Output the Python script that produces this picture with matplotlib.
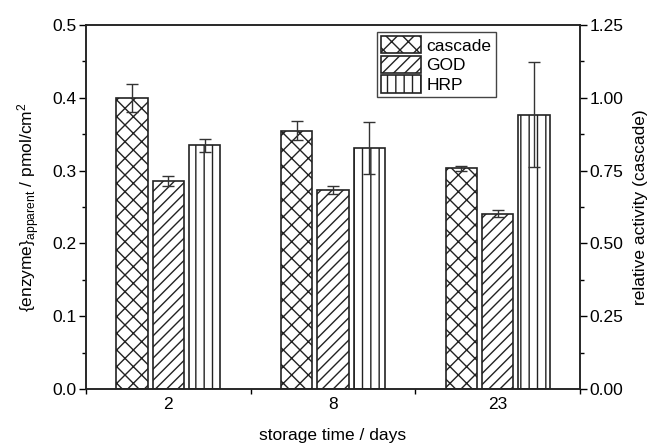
import matplotlib
matplotlib.use("Agg")
import matplotlib.pyplot as plt
import numpy as np

plt.rcParams['font.family'] = ['Liberation Sans', 'DejaVu Sans']
plt.rcParams['font.size'] = 12.5
plt.rcParams['mathtext.fontset'] = 'custom'
plt.rcParams['mathtext.rm'] = 'Liberation Sans'
plt.rcParams['mathtext.it'] = 'Liberation Sans:italic'
plt.rcParams['hatch.linewidth'] = 1.0

days = ['2', '8', '23']
series = ['cascade', 'GOD', 'HRP']
cascade = [0.400, 0.355, 0.303]
cascade_err = [0.019, 0.0125, 0.0035]
god = [0.286, 0.273, 0.241]
god_err = [0.0065, 0.0053, 0.0046]
hrp = [0.335, 0.331, 0.377]
hrp_err = [0.009, 0.036, 0.072]
hatches = ['xx', '///', '||']

W, H = 658, 448
fig = plt.figure(figsize=(W / 100, H / 100), dpi=100)
ax = fig.add_axes([86 / W, (H - 389) / H, 494 / W, 364 / H])

x = np.arange(1, len(days) + 1)
width = 0.19
step = 0.22
edge = '#222222'
for i, (vals, errs) in enumerate([(cascade, cascade_err), (god, god_err), (hrp, hrp_err)]):
    pos = x + (i - 1) * step
    ax.bar(pos, vals, width, color='white', edgecolor=edge, linewidth=1.2,
           hatch=hatches[i], label=series[i], zorder=2)
    ax.errorbar(pos, vals, yerr=errs, fmt='none', ecolor='#333333',
                elinewidth=1.0, capsize=4, capthick=1.0, zorder=3)

ax.set_xlim(0.5, 3.5)
ax.set_ylim(0, 0.5)
ax.set_xticks(x, days)
ax.set_xticks([0.5, 1.5, 2.5, 3.5], minor=True)
ax.tick_params(axis='x', which='major', length=0, pad=6)
ax.tick_params(axis='x', which='minor', length=3.5, direction='out', width=1)
ax.set_yticks(np.arange(0, 0.51, 0.1))
ax.set_yticks(np.arange(0, 0.51, 0.05), minor=True)
ax.yaxis.set_major_formatter(matplotlib.ticker.FormatStrFormatter('%.1f'))
ax.tick_params(axis='y', which='major', length=5, width=1, direction='out', pad=2)
ax.tick_params(axis='y', which='minor', length=3, width=1, direction='out')
for s in ax.spines.values():
    s.set_linewidth(1.1)
    s.set_color('#222222')

ax.set_xlabel('storage time / days')
ax.xaxis.set_label_coords(0.5, -0.107)
ax.set_ylabel(r'{enzyme}$_{\mathregular{apparent}}$ / pmol/cm$^{\mathregular{2}}$')
ax.yaxis.set_label_coords(-0.089, 0.5)

# relative activity scale for the cascade, 0.4 pmol/cm2 = 1.0
ax2 = ax.twinx()
ax2.set_ylim(0, 1.25)
ax2.set_yticks(np.arange(0, 1.26, 0.25))
ax2.set_yticks(np.arange(0, 1.26, 0.125), minor=True)
ax2.yaxis.set_major_formatter(matplotlib.ticker.FormatStrFormatter('%.2f'))
ax2.tick_params(axis='y', which='major', length=5, width=1, direction='out', pad=2)
ax2.tick_params(axis='y', which='minor', length=3, width=1, direction='out')
ax2.set_ylabel('relative activity (cascade)')
ax2.yaxis.set_label_coords(1.107, 0.5)
for s in ax2.spines.values():
    s.set_linewidth(1.1)
    s.set_color('#222222')

leg = ax.legend(loc='upper left', bbox_to_anchor=(0.589, 0.981), borderaxespad=0,
                fancybox=False, edgecolor='#444444', framealpha=1,
                handlelength=2.3, handleheight=1.15, handletextpad=0.3,
                labelspacing=0.12, borderpad=0.25)
leg.get_frame().set_linewidth(1.0)

fig.savefig('out.png', dpi=100)
